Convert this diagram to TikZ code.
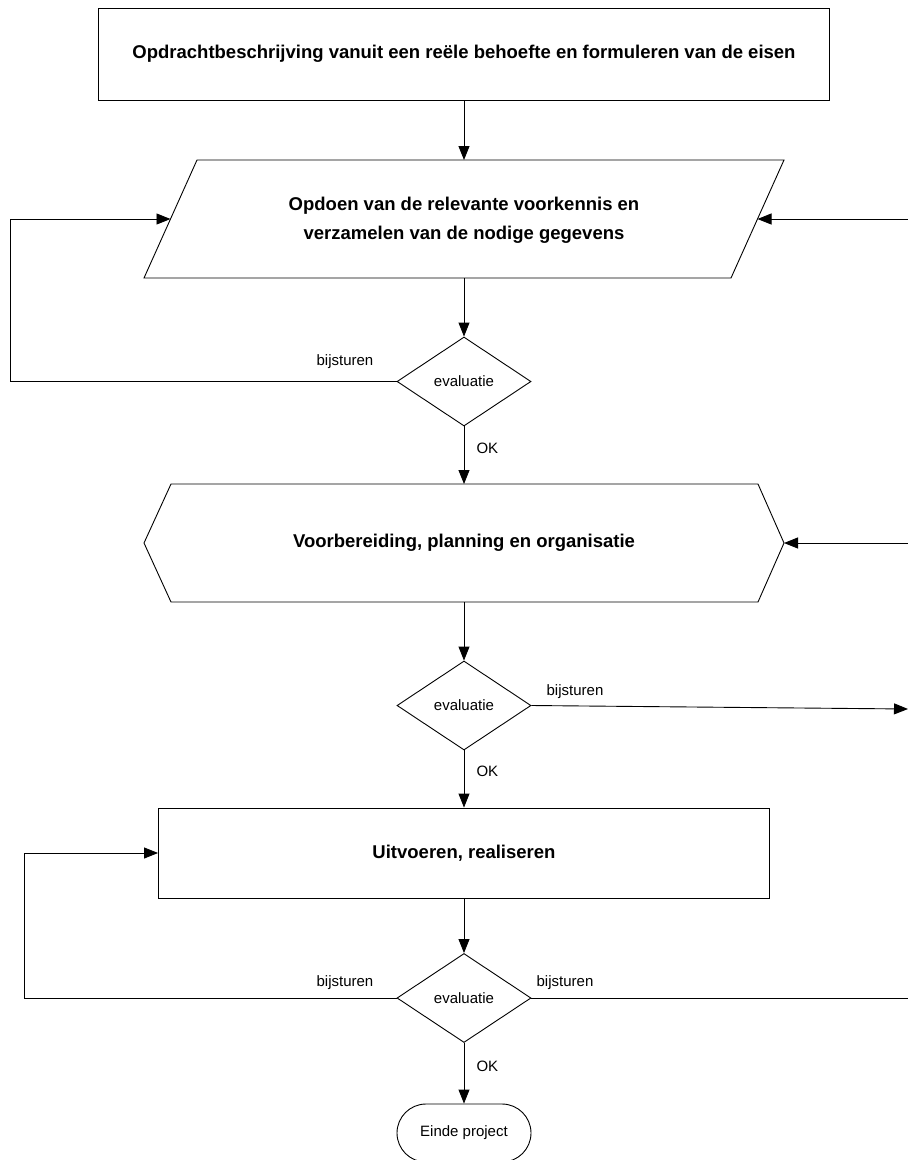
\documentclass[tikz,border=0pt]{standalone}
\usepackage{fontspec}
\setmainfont{Liberation Sans}
\usetikzlibrary{shapes.geometric,shapes.misc,arrows.meta}

\tikzset{
  line/.style={line width=0.9pt},
  flow/.style={line width=0.9pt,-{Triangle[length=14pt,width=11pt]}},
  bigtxt/.style={font=\fontsize{18.5}{29}\selectfont\bfseries,align=center},
  smalltxt/.style={font=\fontsize{15}{18}\selectfont},
  stepbox/.style={draw,line width=0.9pt,inner sep=0pt,bigtxt},
  evalbox/.style={diamond,draw,line width=0.9pt,minimum width=134pt,minimum height=89pt,inner sep=0pt,smalltxt},
  endbox/.style={rounded rectangle,draw,line width=0.9pt,minimum width=134pt,minimum height=58pt,inner sep=0pt,smalltxt}
}

\begin{document}
\begin{tikzpicture}[x=1pt,y=-1pt]
\useasboundingbox (0,0) rectangle (908,1160);

% opdracht
\node[stepbox,minimum width=731pt,minimum height=92pt] (opdracht) at (464,54)
  {Opdrachtbeschrijving vanuit een reële behoefte en formuleren van de eisen};

% voorkennis (parallellogram)
\draw[line] (144,278) -- (731,278) -- (784,160) -- (197,160) -- cycle;
\node[bigtxt] (kennis) at (464,220)
  {Opdoen van de relevante voorkennis en\\verzamelen van de nodige gegevens};
\coordinate (kennisN) at (464,160);
\coordinate (kennisS) at (464,278);
\coordinate (kennisW) at (170.5,219);
\coordinate (kennisE) at (757.5,219);

% planning (zeshoek)
\draw[line] (144,543) -- (171,484) -- (758,484) -- (784,543) -- (758,602) -- (171,602) -- cycle;
\node[bigtxt] (planning) at (464,543) {Voorbereiding, planning en organisatie};
\coordinate (planningN) at (464,484);
\coordinate (planningS) at (464,602);
\coordinate (planningE) at (784,543);

\node[evalbox] (eval1) at (464,381.5) {evaluatie};
\node[evalbox] (eval2) at (464,705.5) {evaluatie};
\node[stepbox,minimum width=611pt,minimum height=90pt] (uitvoeren) at (464,853)
  {Uitvoeren, realiseren};
\node[evalbox] (eval3) at (464,998) {evaluatie};
\node[endbox] (einde) at (464,1133) {Einde project};

% vrije uiteinden
\coordinate (links1) at (10,381.5);
\coordinate (links1b) at (10,219);
\coordinate (rechts1) at (908,219);
\coordinate (rechts2) at (908,543);
\coordinate (rechts3) at (908,709);
\coordinate (links3) at (24,998);
\coordinate (links3b) at (24,853);
\coordinate (rechts4) at (908,998);

% verbindingen
\draw[flow] (opdracht.south) -- (kennisN);
\draw[flow] (kennisS) -- (eval1.north);
\draw[flow] (eval1.south) -- (planningN);
\draw[flow] (eval1.west) -- (links1) -- (links1b) -- (kennisW);
\draw[flow] (rechts1) -- (kennisE);
\draw[flow] (rechts2) -- (planningE);
\draw[flow] (planningS) -- (eval2.north);
\draw[flow] (eval2.east) -- (rechts3);
\draw[flow] (eval2.south) -- (uitvoeren.north);
\draw[flow] (uitvoeren.south) -- (eval3.north);
\draw[flow] (eval3.west) -- (links3) -- (links3b) -- (uitvoeren.west);
\draw[line] (eval3.east) -- (rechts4);
\draw[flow] (eval3.south) -- (einde.north);

% labels
\node[smalltxt,anchor=west] (ok1) at (473,448) {OK};
\node[smalltxt,anchor=west] (ok2) at (473,771) {OK};
\node[smalltxt,anchor=west] (ok3) at (473,1066) {OK};
\node[smalltxt] (bij1) at (345,362) {bijsturen};
\node[smalltxt] (bij2) at (575,692) {bijsturen};
\node[smalltxt] (bij3l) at (345,983) {bijsturen};
\node[smalltxt] (bij3r) at (565,983) {bijsturen};

\end{tikzpicture}
\end{document}
